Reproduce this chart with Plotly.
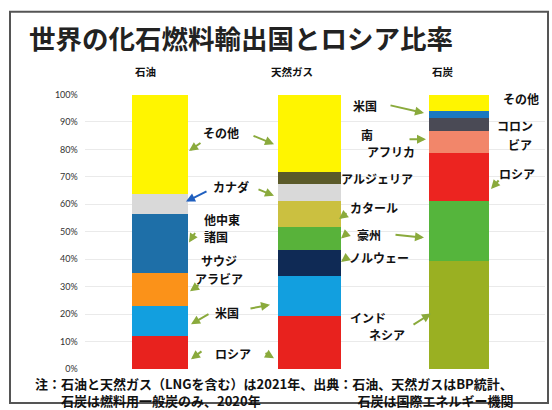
import plotly.graph_objects as go

W, H = 552, 410

fuels = ["石油", "天然ガス", "石炭"]

oil_names = ["ロシア", "米国", "サウジアラビア", "他中東諸国", "カナダ", "その他"]
oil_values = [12.1, 10.9, 12.1, 21.6, 7.1, 36.2]
oil_colors = ["#E8221E", "#129FDF", "#FB9219", "#1E6FA8", "#D9D9D9", "#FFF500"]

gas_names = ["ロシア", "米国", "ノルウェー", "豪州", "カタール", "カナダ", "アルジェリア", "その他"]
gas_values = [19.5, 14.5, 9.6, 8.2, 9.5, 6.1, 4.6, 28.0]
gas_colors = ["#E8221E", "#129FDF", "#0F2A55", "#58B23A", "#CBC040", "#D9D9D9", "#5B5A2A", "#FFF500"]

coal_names = ["インドネシア", "豪州", "ロシア", "南アフリカ", "コロンビア", "米国", "その他"]
coal_values = [39.4, 21.9, 17.4, 8.2, 4.6, 2.8, 5.7]
coal_colors = ["#9AB022", "#55B53C", "#EC2420", "#F2866A", "#4A4A55", "#1B78C0", "#FFF500"]

y_ticks = [0, 10, 20, 30, 40, 50, 60, 70, 80, 90, 100]
y_tick_labels = [f"{v}%" for v in y_ticks]

title_text = "世界の化石燃料輸出国とロシア比率"
note_line1 = "注：石油と天然ガス（LNGを含む）は2021年、出典：石油、天然ガスはBP統計、"
note_line2a = "石炭は燃料用一般炭のみ、2020年"
note_line2b = "石炭は国際エネルギー機関"

JP = "Noto Sans CJK JP"

fig = go.Figure()
bar_widths = [0.375, 0.42, 0.40]
for fuel, names, vals, cols, bw in zip(
    fuels,
    [oil_names, gas_names, coal_names],
    [oil_values, gas_values, coal_values],
    [oil_colors, gas_colors, coal_colors],
    bar_widths,
):
    for n, v, c in zip(names, vals, cols):
        fig.add_trace(go.Bar(x=[fuel], y=[v], name=n, width=bw,
                             marker=dict(color=c, line=dict(width=0)),
                             showlegend=False))


def px(x, y):
    return x / W, 1 - y / H


ann = []


def label(text, x, y, size=12, anchor="center", align="center"):
    X, Y = px(x, y)
    ann.append(dict(text=text, x=X, y=Y, xref="paper", yref="paper",
                    xanchor=anchor, yanchor="middle", showarrow=False,
                    align=align,
                    font=dict(family=JP, size=size, color="#111", weight="bold")))


def arrow(tx, ty, hx, hy, color="#8AAA3C"):
    X, Y = px(hx, hy)
    ann.append(dict(text="", x=X, y=Y, xref="paper", yref="paper",
                    ax=tx - hx, ay=ty - hy, showarrow=True, arrowhead=2,
                    arrowsize=0.9, arrowwidth=2, arrowcolor=color))


# title
X, Y = px(241, 32)
ann.append(dict(text=title_text, x=X, y=Y, xref="paper", yref="paper",
                xanchor="center", yanchor="middle", showarrow=False,
                font=dict(family=JP, size=26.5, color="#222", weight="bold")))

# column headers
for f, cx in zip(fuels, [145, 292, 443]):
    label(f, cx, 67, size=10.5)

# oil / gas labels
label("その他", 221, 130)
arrow(202, 140, 189, 149)
arrow(252, 133, 274, 142)
label("カナダ", 231, 185)
arrow(208, 190, 186, 201, color="#1F5FBF")
arrow(257, 188, 274, 195)
label("他中東", 202, 219, anchor="left")
label("諸国", 202, 237, anchor="left")
arrow(196, 232, 189, 243)
label("サウジ", 219, 262)
label("アラビア", 219, 280)
arrow(200, 286, 190, 293)
label("米国", 227, 315)
arrow(210, 316, 191, 327)
arrow(249, 311, 270, 307)
label("ロシア", 233, 357)
arrow(203, 354, 191, 363)
arrow(264, 356, 274, 362)

# gas / coal labels
label("米国", 365, 102)
arrow(389, 102, 424, 110)
label("南", 367, 132)
label("アフリカ", 391, 150)
arrow(408, 137, 426, 137)
label("アルジェリア", 377, 177)
label("カタール", 374, 207)
arrow(348, 212, 339, 219)
label("豪州", 369, 235)
arrow(349, 232, 341, 239)
arrow(394, 235, 424, 238)
label("ノルウェー", 379, 258)
arrow(349, 257, 341, 263)
label("インド", 368, 320)
label("ネシア", 387, 338)
arrow(412, 328, 431, 316)

# coal right labels
label("その他", 521, 95)
label("コロン", 515, 123)
label("ビア", 520, 142)
label("ロシア", 517, 172)
arrow(500, 178, 491, 188)

# footer (one two-line text block)
footer = (note_line1 + "<br>" + "\u3000\u3000" + note_line2a
          + "\u3000" * 7 + "\u00a0\u00a0" + note_line2b)
label(footer, 33, 396.5, size=13, anchor="left", align="left")

fig.update_layout(
    width=W, height=H,
    margin=dict(l=0, r=0, t=0, b=0),
    paper_bgcolor="white", plot_bgcolor="white",
    barmode="stack", bargap=0,
    showlegend=False,
    annotations=ann,
    xaxis=dict(domain=[84.75 / W, 545 / W], range=[-0.5, 2.579],
               showticklabels=False, showgrid=False, zeroline=False,
               showline=False, ticks=""),
    yaxis=dict(domain=[(H - 373) / H, (H - 91) / H], range=[0, 100],
               tickvals=y_ticks, ticktext=y_tick_labels,
               tickfont=dict(family="Lato", size=9, color="#333"),
               showgrid=True, gridcolor="#EAEAEA", gridwidth=1,
               zeroline=False, showline=False, ticks="",
               ticklabelstandoff=6),
    shapes=[dict(type="rect", xref="paper", yref="paper",
                 x0=10 / W, x1=548 / W, y0=1 - 408 / H, y1=1 - 6 / H,
                 line=dict(color="#555", width=2), fillcolor="rgba(0,0,0,0)",
                 layer="above")],
)

fig.write_html("out.html")
